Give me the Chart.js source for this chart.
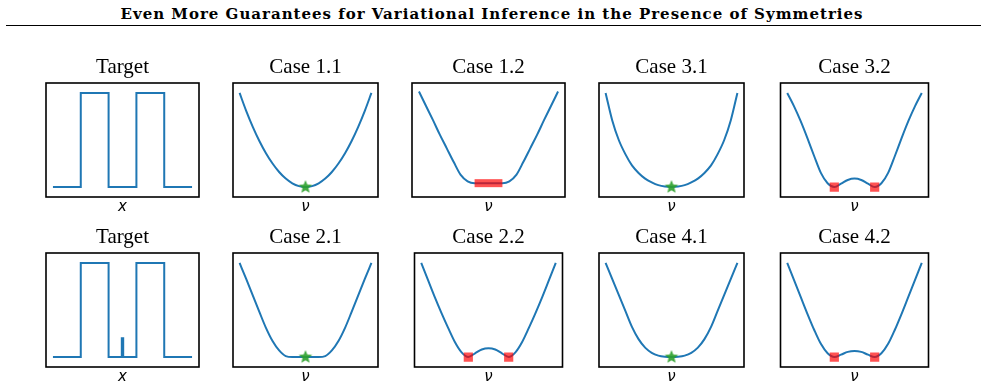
<!DOCTYPE html>
<html>
<head>
<meta charset="utf-8">
<script src="https://cdn.jsdelivr.net/npm/chart.js@4"></script>
<style>
  html, body { margin:0; padding:0; background:#fff; }
  body { width:984px; height:388px; position:relative; overflow:hidden; }
  #titulo { position:absolute; left:0; width:984px; top:5px; text-align:center;
            font-family:'DejaVu Serif', serif; font-weight:bold; font-size:15px;
            letter-spacing:1px; line-height:18px; color:#000; }
  #linea { position:absolute; left:6px; width:975px; top:25px; height:1.4px; background:#000; }
  .panel { position:absolute; width:161px; height:161px; }
</style>
</head>
<body>
<div id="titulo">Even More Guarantees for Variational Inference in the Presence of Symmetries</div>
<div id="linea"></div>
<script>
// --- datos ---
// objetivo (fila 1 y fila 2, con el pico chico en el medio)
const targetX1 = [-5, -3, -3, -1, -1, 1, 1, 3, 3, 5];
const targetY1 = [0, 0, 1, 1, 0, 0, 1, 1, 0, 0];
const targetX2 = [-5, -3, -3, -1, -1, -0.05, -0.05, 0.05, 0.05, 1, 1, 3, 3, 5];
const targetY2 = [0, 0, 1, 1, 0, 0, 0.2, 0.2, 0, 0, 1, 1, 0, 0];

// grilla de nu para las curvas de los casos
const nu = [-1, -0.9, -0.8, -0.7, -0.6, -0.5, -0.4, -0.3, -0.2, -0.1, 0,
            0.1, 0.2, 0.3, 0.4, 0.5, 0.6, 0.7, 0.8, 0.9, 1];

const case11 = [1, 0.81, 0.64, 0.49, 0.36, 0.25, 0.16, 0.09, 0.04, 0.01, 0, 0.01, 0.04, 0.09, 0.16, 0.25, 0.36, 0.49, 0.64, 0.81, 1];
const case12 = [1, 0.845, 0.69, 0.53, 0.38, 0.23, 0.09, 0.02, 0, 0, 0, 0, 0, 0.02, 0.09, 0.23, 0.38, 0.53, 0.69, 0.845, 1];
const case31 = [1, 0.71, 0.5, 0.35, 0.23, 0.15, 0.09, 0.05, 0.02, 0.005, 0, 0.005, 0.02, 0.05, 0.09, 0.15, 0.23, 0.35, 0.5, 0.71, 1];
const case32 = [1, 0.86, 0.7, 0.52, 0.33, 0.15, 0.04, 0, 0.035, 0.075, 0.09, 0.075, 0.035, 0, 0.04, 0.15, 0.33, 0.52, 0.7, 0.86, 1];
const case21 = [1, 0.83, 0.655, 0.48, 0.31, 0.17, 0.07, 0.01, 0, 0, 0, 0, 0, 0.01, 0.07, 0.17, 0.31, 0.48, 0.655, 0.83, 1];
const case22 = [1, 0.82, 0.64, 0.47, 0.31, 0.16, 0.05, 0, 0.04, 0.08, 0.093, 0.08, 0.04, 0, 0.05, 0.16, 0.31, 0.47, 0.64, 0.82, 1];
const case41 = [1, 0.83, 0.66, 0.49, 0.32, 0.19, 0.1, 0.045, 0.015, 0.003, 0, 0.003, 0.015, 0.045, 0.1, 0.19, 0.32, 0.49, 0.66, 0.83, 1];
const case42 = [1, 0.82, 0.64, 0.46, 0.29, 0.14, 0.04, 0, 0.025, 0.055, 0.065, 0.055, 0.025, 0, 0.04, 0.14, 0.29, 0.46, 0.64, 0.82, 1];

// marcadores de los minimos
const starX = [0];
const starY = [0];
const barX = [-0.2, 0.2];
const barY = [0, 0];
const squareX = [-0.3, 0.3];
const squareY = [0, 0];

const titulos = ['Target', 'Case 1.1', 'Case 1.2', 'Case 3.1', 'Case 3.2',
                 'Target', 'Case 2.1', 'Case 2.2', 'Case 4.1', 'Case 4.2'];

// --- estilo ---
const AZUL = '#1f77b4';
const ROJO = 'rgba(255,0,0,0.68)';
const VERDE = 'rgba(44,160,44,0.9)';
const izquierdas = [46, 229, 412, 595, 778];
const arribas = [83, 253];

Chart.defaults.color = '#000';

function puntos(xs, ys) {
    return xs.map((x, i) => ({ x: x, y: ys[i] }));
}

function hacerEstrella(r, color) {
    const c = document.createElement('canvas');
    const s = Math.ceil(r * 2) + 2;
    c.width = s; c.height = s;
    const g = c.getContext('2d');
    g.fillStyle = color;
    g.beginPath();
    for (let i = 0; i < 10; i++) {
        const rr = i % 2 === 0 ? r : r * 0.45;
        const a = -Math.PI / 2 + i * Math.PI / 5;
        g.lineTo(s / 2 + rr * Math.cos(a), s / 2 + rr * Math.sin(a));
    }
    g.closePath();
    g.fill();
    return c;
}
const estrella = hacerEstrella(7, VERDE);

// marco negro alrededor de cada panel
const marco = {
    id: 'marco',
    afterDatasetsDraw(chart) {
        const { ctx, chartArea: a } = chart;
        ctx.save();
        ctx.strokeStyle = '#000';
        ctx.lineWidth = 1.6;
        ctx.strokeRect(a.left, a.top, a.right - a.left, a.bottom - a.top);
        ctx.restore();
    }
};

// --- definicion de los paneles ---
const paneles = [
    { xs: targetX1, ys: targetY1, marca: null, xl: 'x' },
    { xs: nu, ys: case11, marca: 'estrella', xl: 'ν' },
    { xs: nu, ys: case12, marca: 'barra', xl: 'ν' },
    { xs: nu, ys: case31, marca: 'estrella', xl: 'ν' },
    { xs: nu, ys: case32, marca: 'cuadros', xl: 'ν' },
    { xs: targetX2, ys: targetY2, marca: null, xl: 'x' },
    { xs: nu, ys: case21, marca: 'estrella', xl: 'ν' },
    { xs: nu, ys: case22, marca: 'cuadros', xl: 'ν' },
    { xs: nu, ys: case41, marca: 'estrella', xl: 'ν' },
    { xs: nu, ys: case42, marca: 'cuadros', xl: 'ν' }
];

paneles.forEach((p, i) => {
    const fila = Math.floor(i / 5), col = i % 5;
    const div = document.createElement('div');
    div.className = 'panel';
    div.style.left = (izquierdas[col] - 4) + 'px';
    div.style.top = (arribas[fila] - 28) + 'px';
    const canvas = document.createElement('canvas');
    div.appendChild(canvas);
    document.body.appendChild(div);

    const esTarget = p.marca === null;
    const datasets = [];
    if (p.marca === 'estrella') {
        datasets.push({ data: puntos(starX, starY), showLine: false, pointStyle: estrella, pointRadius: 7 });
    } else if (p.marca === 'barra') {
        datasets.push({ data: puntos(barX, barY), borderColor: ROJO, borderWidth: 8, borderCapStyle: 'butt', pointRadius: 0 });
    } else if (p.marca === 'cuadros') {
        datasets.push({ data: puntos(squareX, squareY), showLine: false, pointStyle: 'rect',
                        pointRadius: 6.5, backgroundColor: ROJO, borderWidth: 0 });
    }
    datasets.push({
        data: puntos(p.xs, p.ys),
        borderColor: AZUL, borderWidth: 2, pointRadius: 0,
        borderJoinStyle: 'miter',
        cubicInterpolationMode: esTarget ? 'default' : 'monotone'
    });

    const xlim = esTarget ? 5.5 : 1.1;
    const ymin = p.marca === 'barra' ? -0.151 : -0.106;
    const ymax = p.marca === 'barra' ? 1.093 : 1.106;

    new Chart(canvas, {
        type: 'line',
        data: { datasets: datasets },
        options: {
            responsive: true,
            maintainAspectRatio: false,
            animation: false,
            layout: { padding: { left: 4, right: 4, top: 0, bottom: 0 } },
            plugins: {
                legend: { display: false },
                tooltip: { enabled: false },
                title: {
                    display: true, text: titulos[i], color: '#000',
                    font: { family: 'Liberation Serif', size: 21, weight: 'normal', lineHeight: '25px' },
                    padding: { top: 0, bottom: 3 }
                }
            },
            scales: {
                x: {
                    type: 'linear', min: -xlim, max: xlim,
                    grid: { display: false, drawTicks: false },
                    border: { display: false },
                    ticks: { display: false },
                    title: {
                        display: true, text: p.xl, color: '#000',
                        font: { family: 'DejaVu Sans', style: 'italic', size: 15, lineHeight: '17px' },
                        padding: { top: 2, bottom: 0 }
                    }
                },
                y: { display: false, min: ymin, max: ymax }
            }
        },
        plugins: [marco]
    });
});
</script>
</body>
</html>
